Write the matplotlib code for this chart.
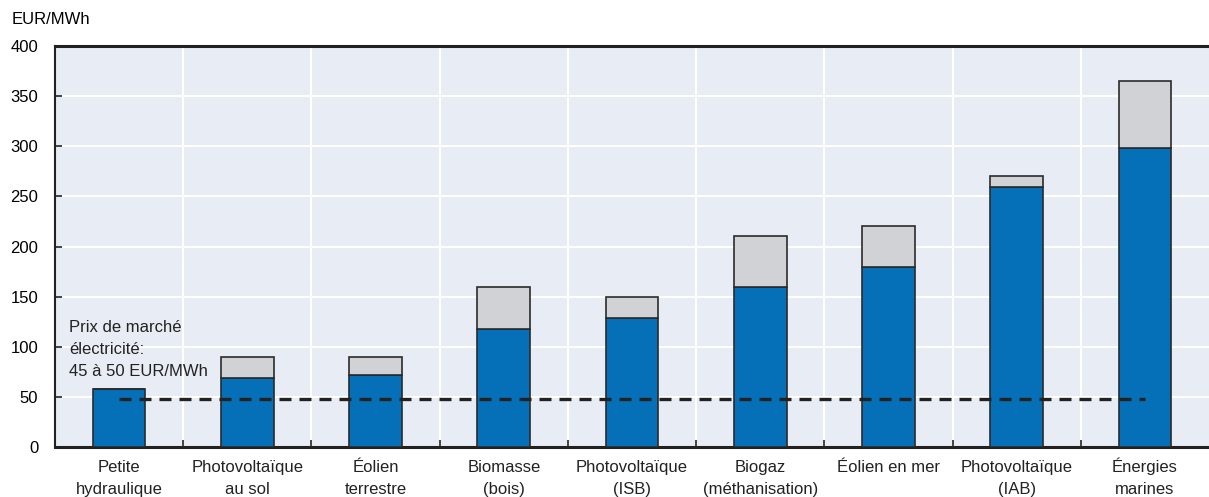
import numpy as np
import matplotlib.pyplot as plt
from matplotlib.ticker import FixedLocator

plt.rcParams['font.family'] = ['Liberation Sans', 'DejaVu Sans']
plt.rcParams['font.size'] = 12

categories = ['Petite\nhydraulique', 'Photovoltaïque\nau sol', 'Éolien\nterrestre',
              'Biomasse\n(bois)', 'Photovoltaïque\n(ISB)', 'Biogaz\n(méthanisation)',
              'Éolien en mer', 'Photovoltaïque\n(IAB)', 'Énergies\nmarines']
cost_low = [58, 69, 72, 118, 129, 160, 180, 259, 298]
cost_high = [58, 90, 90, 160, 150, 210, 220, 270, 365]
market_price = 47.5

x = np.arange(len(categories))
rng = np.array(cost_high) - np.array(cost_low)

fig = plt.figure(figsize=(12.09, 4.97), dpi=100)
ax = fig.add_axes([0.0455, 0.1006, 0.9545, 0.8068])
ax.set_facecolor('#e8ecf5')

ax.bar(x, cost_low, width=0.41, color='#056fb7', edgecolor='#2b2b2b', linewidth=1.2, zorder=3)
ax.bar(x, rng, bottom=cost_low, width=0.41, color='#d1d2d5', edgecolor='#2b2b2b',
       linewidth=1.2, zorder=3)
ax.plot([x[0], x[-1]], [market_price, market_price], color='#222222', lw=2.4,
        dashes=(3.6, 2.4), zorder=4)

ax.set_xlim(-0.5, len(categories) - 0.5)
ax.set_ylim(0, 400)
ax.set_yticks(np.arange(0, 401, 50))
ax.set_xticks(x)
ax.set_xticklabels([])
ax.xaxis.set_minor_locator(FixedLocator(x[:-1] + 0.5))
ax.tick_params(axis='x', which='major', length=0)
ax.tick_params(axis='x', which='minor', direction='in', length=5, width=1.2, color='#222222')
ax.tick_params(axis='y', direction='in', length=5, width=1.2, color='#222222', pad=12)

# category labels, one line at a time so accents don't shift the baseline
for xi, cat in zip(x, categories):
    for j, line in enumerate(cat.split('\n')):
        ax.annotate(line, xy=(xi, 0), xycoords=('data', 'axes fraction'),
                    xytext=(0, -18 - 16 * j), textcoords='offset points',
                    ha='center', va='baseline', color='#222222')

ax.grid(axis='y', color='white', lw=1.5, zorder=0)
ax.grid(axis='x', which='minor', color='white', lw=1.5, zorder=0)
ax.set_axisbelow(True)

for s in ['top', 'bottom']:
    ax.spines[s].set_linewidth(2.2)
    ax.spines[s].set_color('#222222')
ax.spines['left'].set_linewidth(1.5)
ax.spines['left'].set_color('#222222')
ax.spines['right'].set_visible(False)

ax.text(-0.39, 127, 'Prix de marché\nélectricité:\n45 à 50 EUR/MWh',
        ha='left', va='top', linespacing=1.6, color='#222222')
fig.text(12 / 1209, 1 - 20 / 497, 'EUR/MWh', ha='left', va='center')

fig.savefig('out.png', dpi=100)
